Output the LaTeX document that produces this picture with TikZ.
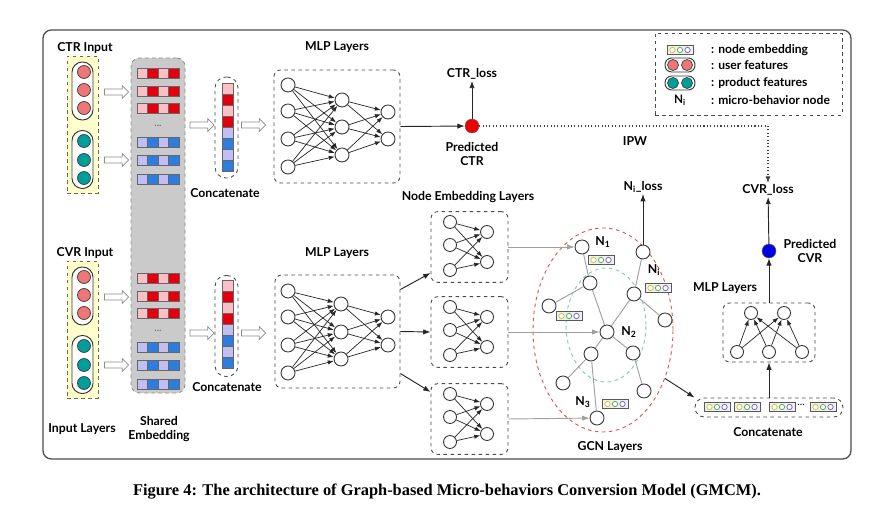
\documentclass[tikz,border=0pt]{standalone}
\usepackage{fontspec}
\setmainfont{Lato}
\newfontfamily\captionfont{Liberation Serif}
\usetikzlibrary{arrows.meta,positioning,shapes.arrows,shapes.geometric}
\definecolor{userred}{RGB}{238,118,118}
\definecolor{prodteal}{RGB}{0,158,155}
\definecolor{embpink}{RGB}{250,192,198}
\definecolor{embred}{RGB}{226,0,12}
\definecolor{emblav}{RGB}{192,190,242}
\definecolor{embblue}{RGB}{45,125,222}
\definecolor{inyellow}{RGB}{255,255,204}
\definecolor{inolive}{RGB}{110,110,60}
\definecolor{sharedgray}{RGB}{202,202,202}
\definecolor{gcnred}{RGB}{222,88,78}
\definecolor{gcngreen}{RGB}{130,205,175}
\definecolor{linkgray}{RGB}{160,160,160}
\definecolor{dotyel}{RGB}{205,200,60}
\definecolor{dotgreen}{RGB}{90,175,90}
\definecolor{dotpurple}{RGB}{125,105,205}
\definecolor{ctrdot}{RGB}{235,0,0}
\definecolor{cvrdot}{RGB}{0,0,225}
\tikzset{
  lbl/.style={font=\bfseries\fontsize{10.5}{12.5}\selectfont, inner sep=1pt},
  lgdtext/.style={font=\bfseries\fontsize{10.3}{12}\selectfont, anchor=west, inner sep=0pt},
  neuron/.style={circle, draw=black!80, fill=white, line width=0.75pt,
                 minimum size=0.42cm, inner sep=0pt},
  sneuron/.style={neuron, minimum size=0.39cm},
  feat/.style={circle, draw=black!75, line width=0.6pt, minimum size=0.39cm, inner sep=0pt},
  capsule/.style={rectangle, rounded corners=0.31cm, draw=black!80, fill=white,
                  line width=0.8pt, minimum width=0.63cm, minimum height=1.74cm},
  dbox/.style={rectangle, rounded corners=0.2cm, draw=black!70, dashed,
               line width=0.75pt, inner sep=0pt},
  hollow/.style={single arrow, draw=black!45, fill=white, line width=0.6pt,
                 minimum height=0.72cm, inner sep=0.08cm, single arrow head extend=0.1cm},
  embcell/.style={draw=black!60, line width=0.4pt},
  mlparc/.style={-{Latex[length=1.8mm,width=1.3mm]}, black!85, line width=0.6pt},
  arc/.style={-{Latex[length=2.2mm,width=1.6mm]}, black!85, line width=0.8pt},
  grayarc/.style={-{Latex[length=2.2mm,width=1.6mm]}, linkgray, line width=0.8pt},
  gedge/.style={linkgray, line width=0.8pt},
  nemb/.pic={
    \draw[black!65, fill=black!6, line width=0.5pt] (-13,-4.5) rectangle (13,4.5);
    \foreach \dx/\col in {-7.5/dotyel,0/dotgreen,7.5/dotpurple}
      \draw[\col, line width=0.7pt, fill=white] (\dx,0) circle (0.08cm);
  },
}

\begin{document}
\begin{tikzpicture}[x=0.03cm, y=-0.03cm, >=Latex]
\useasboundingbox (0,0) rectangle (893,514);
\fill[white] (0,0) rectangle (893,514);
\draw[black!70, line width=1.1pt, rounded corners=0.25cm] (43,30) rectangle (851,459);

% input layers
\node[lbl] (ctrin) at (85,48) {CTR Input};
\node[lbl] (cvrin) at (85,253) {CVR Input};
\node[lbl] (inlay) at (82,429) {Input Layers};
\foreach \b/\c in {T/124.5,B/329.5}
  \node[dbox, fill=inyellow, draw=inolive, rounded corners=0pt,
        minimum width=0.93cm, minimum height=4.11cm] (in\b) at (82.5,\c) {};
\foreach \y in {91,296} \node[capsule] (ucap\y) at (82.5,\y) {};
\foreach \y in {159.5,364.5} \node[capsule] (pcap\y) at (82.5,\y) {};
\foreach \y in {72,90,108,277,295,313} \node[feat, fill=userred] (u\y) at (84,\y) {};
\foreach \y in {141,160,178,346,365,383} \node[feat, fill=prodteal] (p\y) at (84,\y) {};

% shared embedding
\node[dbox, fill=sharedgray, draw=black!45, rounded corners=0.25cm,
      minimum width=1.62cm, minimum height=10.05cm] (shared) at (158,225.5) {};
\node[lbl, align=center] (sharedlbl) at (159,429) {Shared\\Embedding};
\foreach \y in {73,91,108,278,296,313}
  \foreach \k/\col in {0/embpink,1/embred,2/embpink,3/embred}
    \draw[embcell, fill=\col] (137+10.5*\k,\y-5) rectangle ++(10.5,10);
\foreach \y in {142,160,179,347,365,384}
  \foreach \k/\col in {0/emblav,1/embblue,2/emblav,3/embblue}
    \draw[embcell, fill=\col] (137+10.5*\k,\y-5) rectangle ++(10.5,10);
\foreach \y in {126,331} \node[font=\small, black!60] (dots\y) at (158,\y) {...};
\foreach \y in {92,160,297,365} \node[hollow] (ha\y) at (115,\y) {};

% concatenate
\foreach \y in {125,333} {
  \node[hollow] (hb\y) at (200.5,\y) {};
  \node[hollow] (hc\y) at (252,\y) {};
}
\node[dbox, rounded corners=0.33cm, minimum width=0.69cm, minimum height=3.03cm] (catT) at (226.5,127.5) {};
\node[dbox, rounded corners=0.33cm, minimum width=0.69cm, minimum height=3.03cm] (catB) at (226.5,326) {};
\foreach \y in {83,280}
  \foreach \k/\col in {0/embpink,1/embred,2/embpink,3/embred,4/emblav,5/embblue,6/emblav,7/embblue}
    \draw[embcell, fill=\col] (222,\y+11*\k) rectangle ++(11,11);
\node[lbl] (catTlbl) at (225,193) {Concatenate};
\node[lbl] (catBlbl) at (227,387) {Concatenate};

% MLP layers (CTR)
\node[lbl] (mlpTlbl) at (337,47) {MLP Layers};
\node[dbox, minimum width=3.78cm, minimum height=3.39cm] (mlpT) at (337,126.5) {};
\foreach \i/\y in {1/85,2/111,3/139,4/167} \node[neuron] (ta\i) at (288,\y) {};
\foreach \i/\y in {1/100,2/127,3/155} \node[neuron] (tb\i) at (342,\y) {};
\foreach \i/\y in {1/112,2/139} \node[neuron] (tc\i) at (388,\y) {};
\foreach \i in {1,...,4} \foreach \j in {1,2,3} \draw[mlparc] (ta\i) -- (tb\j);
\foreach \i in {1,2,3} \foreach \j in {1,2} \draw[mlparc] (tb\i) -- (tc\j);

% MLP layers (CVR)
\node[lbl] (mlpBlbl) at (337,253) {MLP Layers};
\node[dbox, minimum width=3.75cm, minimum height=3.39cm] (mlpB) at (337.5,331.5) {};
\foreach \i/\y in {1/291,2/317,3/345,4/373} \node[neuron] (ba\i) at (288,\y) {};
\foreach \i/\y in {1/304,2/332,3/359} \node[neuron] (bb\i) at (341,\y) {};
\foreach \i/\y in {1/317,2/345} \node[neuron] (bc\i) at (388,\y) {};
\foreach \i in {1,...,4} \foreach \j in {1,2,3} \draw[mlparc] (ba\i) -- (bb\j);
\foreach \i in {1,2,3} \foreach \j in {1,2} \draw[mlparc] (bb\i) -- (bc\j);

% CTR output
\node[circle, draw=black!60, fill=ctrdot, minimum size=0.42cm, inner sep=0pt] (pctr) at (472,126) {};
\node[lbl] (ctrloss) at (472,74) {CTR\_loss};
\node[lbl, align=center] (pctrlbl) at (472,154) {Predicted\\CTR};
\draw[arc] (mlpT.east) -- (pctr);
\draw[arc] (pctr) -- (ctrloss);

% node embedding layers
\node[lbl] (nelbl) at (468,197) {Node Embedding Layers};
\foreach \b/\c in {A/247,B/332,C/419} {
  \node[dbox, minimum width=2.31cm, minimum height=2.12cm] (ne\b) at (469.5,\c) {};
  \foreach \i/\dy in {1/-25,2/-2,3/23} \node[sneuron] (ne\b-i\i) at (450,\c+\dy) {};
  \foreach \j/\dy in {1/-15,2/15} \node[sneuron] (ne\b-o\j) at (487,\c+\dy) {};
  \foreach \i in {1,2,3} \foreach \j in {1,2} \draw[mlparc] (ne\b-i\i) -- (ne\b-o\j);
}
\draw[arc] ([yshift=1.26cm]mlpB.east) -- ([yshift=-0.78cm]neA.west);
\draw[arc] (mlpB.east) -- (neB.west);
\draw[arc] ([yshift=-1.26cm]mlpB.east) -- ([yshift=0.81cm]neC.west);

% GCN layers
\node[ellipse, draw=gcnred, dashed, line width=0.8pt, minimum width=4.2cm,
      minimum height=6.12cm, inner sep=0pt] (gcn) at (603,330) {};
\node[ellipse, draw=gcngreen, dashed, line width=0.8pt, minimum width=2.4cm,
      minimum height=3.42cm, inner sep=0pt] (gcnin) at (606,325) {};
\node[lbl] (gcnlbl) at (610,447) {GCN Layers};
\node[neuron] (n1) at (582,247) {};
\node[neuron] (ni) at (643,252) {};
\node[neuron] (na) at (590,283) {};
\node[neuron] (nb) at (634,294) {};
\node[neuron] (nc) at (549,306) {};
\node[neuron] (nd) at (665,320) {};
\node[neuron] (n2) at (607,332) {};
\node[neuron] (ne) at (591,354) {};
\node[neuron] (nf) at (633,353) {};
\node[neuron] (ng) at (563,383) {};
\node[neuron] (nh) at (644,391) {};
\node[neuron] (n3) at (597,418) {};
\foreach \u/\v in {n1/na,na/nc,na/n2,ni/nb,nb/n2,nb/nd,n2/ne,n2/nf,ne/ng,ne/n3,nf/nh}
  \draw[gedge] (\u) -- (\v);
\pic at (601,260) {nemb};
\pic at (569,316) {nemb};
\pic at (658,288) {nemb};
\pic at (615,404) {nemb};
\node[lbl] (n1lbl) at (603,242) {N\textsubscript{1}};
\node[lbl] (nilbl) at (654,270) {N\textsubscript{i}};
\node[lbl] (n2lbl) at (629,332) {N\textsubscript{2}};
\node[lbl] (n3lbl) at (583,402) {N\textsubscript{3}};
\node[lbl] (niloss) at (643,187) {N\textsubscript{i}\_loss};
\draw[arc] (ni) -- (niloss);
\draw[grayarc] (neA.east) -- (n1);
\draw[grayarc] (neB.east) -- (n2);
\draw[grayarc] (neC.east) -- (n3);

% CVR tower
\node[dbox, rounded corners=0.28cm, minimum width=4.44cm, minimum height=0.57cm] (rcat) at (769,407.5) {};
\foreach \x in {717,747,782,823} \pic at (\x,407) {nemb};
\node[font=\small] (rdots) at (801,405) {...};
\node[lbl] (rcatlbl) at (768,432) {Concatenate};
\draw[arc] (gcn.-38) -- (rcat.north west);
\node[lbl] (rmlplbl) at (725,288) {MLP Layers};
\node[dbox, minimum width=2.76cm, minimum height=1.77cm] (rmlp) at (769,332.5) {};
\foreach \i/\x in {1/737,2/769,3/802} \node[sneuron] (ra\i) at (\x,352) {};
\foreach \j/\x in {1/751,2/784} \node[sneuron] (rb\j) at (\x,313) {};
\foreach \i in {1,2,3} \foreach \j in {1,2} \draw[mlparc] (ra\i) -- (rb\j);
\node[circle, draw=black!60, fill=cvrdot, minimum size=0.42cm, inner sep=0pt] (pcvr) at (769,251) {};
\node[lbl, align=center] (pcvrlbl) at (810,251) {Predicted\\CVR};
\node[lbl] (cvrloss) at (768,190) {CVR\_loss};
\draw[arc] (rcat.north) -- (rmlp.south);
\draw[arc] (rmlp.north) -- (pcvr);
\draw[arc] (pcvr) -- (cvrloss);
\draw[dotted, line width=0.9pt, black!75, -{Latex[length=2mm,width=1.5mm]}] (pctr.east) -| (cvrloss.north);
\node[lbl] (ipw) at (635,141) {IPW};

% legend
\node[dbox, rounded corners=0pt, minimum width=5.61cm, minimum height=2.46cm] (lgd) at (748.5,74) {};
\pic at (680,50) {nemb};
\node[rectangle, rounded corners=0.2cm, draw=black!80, line width=0.8pt,
      minimum width=0.9cm, minimum height=0.42cm] (lgu) at (680,65) {};
\node[feat, fill=userred, minimum size=0.33cm] (lgu1) at (673,65) {};
\node[feat, fill=userred, minimum size=0.33cm] (lgu2) at (687,65) {};
\node[rectangle, rounded corners=0.2cm, draw=black!80, line width=0.8pt,
      minimum width=0.9cm, minimum height=0.42cm] (lgp) at (680,83) {};
\node[feat, fill=prodteal, minimum size=0.33cm] (lgp1) at (673,83) {};
\node[feat, fill=prodteal, minimum size=0.33cm] (lgp2) at (687,83) {};
\node[font=\bfseries\fontsize{10}{11}\selectfont] (lgn) at (680,100) {N\textsubscript{i}};
\node[lgdtext] (lgt1) at (711,50) {: node embedding};
\node[lgdtext] (lgt2) at (711,65) {: user features};
\node[lgdtext] (lgt3) at (711,83) {: product features};
\node[lgdtext] (lgt4) at (711,100) {: micro-behavior node};

% caption
\node[font=\captionfont\bfseries\fontsize{14}{16}\selectfont] (cap) at (447,492)
  {Figure 4: The architecture of Graph-based Micro-behaviors Conversion Model (GMCM).};
\end{tikzpicture}
\end{document}
